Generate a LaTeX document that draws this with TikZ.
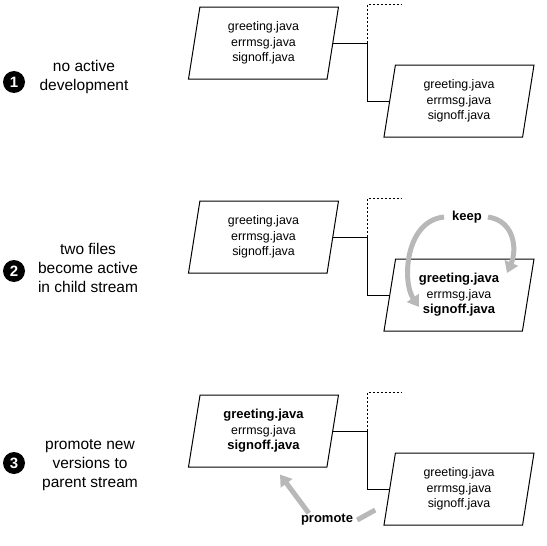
\documentclass[tikz,border=0pt]{standalone}
\usepackage{fontspec}
\setmainfont{Liberation Sans}
\usetikzlibrary{shapes.geometric,arrows.meta}
\definecolor{arrowgray}{RGB}{184,184,184}
\newcommand\bfile[1]{{\fontsize{13}{15.5}\selectfont\bfseries #1}}
\begin{document}
\begin{tikzpicture}[x=1pt,y=-1pt,
  filebox/.style={draw, line width=1pt, trapezium, trapezium left angle=75,
    trapezium right angle=105, trapezium stretches body, minimum width=150pt,
    minimum height=72pt, inner sep=0pt, align=center,
    font=\fontsize{12.4}{15.5}\selectfont},
  link/.style={line width=1pt},
  dashlink/.style={line width=1pt, dash pattern=on 2pt off 2pt},
  numdot/.style={circle, fill=black, minimum size=22pt, inner sep=0pt,
    text=white, font=\bfseries\fontsize{15}{15}\selectfont},
  steplabel/.style={align=center, font=\fontsize{15.5}{19}\selectfont},
  actlabel/.style={font=\bfseries\fontsize{13}{13}\selectfont, inner sep=1pt},
  graybody/.style={draw=arrowgray, line width=5pt},
  grayarrow/.style={graybody, -{Triangle[width=14pt,length=11pt]}}
]
\useasboundingbox (0,0) rectangle (547,546);

% ---------- panel 1 ----------
\node[numdot] (n1) at (14,82) {1};
\node[steplabel] (t1) at (84,77) {no active\\development};
\node[filebox] (p1) at (263.5,43) {greeting.java\\errmsg.java\\signoff.java};
\node[filebox] (c1) at (459,101) {greeting.java\\errmsg.java\\signoff.java};
\draw[link] (p1.east) -- ++(34,0) coordinate (j1) |- (c1.west);
\draw[dashlink] (j1) -- ++(0,-38.5) -- ++(34,0);

% ---------- panel 2 ----------
\node[numdot] (n2) at (14,271) {2};
\node[steplabel] (t2) at (88,268) {two files\\become active\\in child stream};
\node[filebox] (p2) at (263.5,237) {greeting.java\\errmsg.java\\signoff.java};
\node[filebox] (c2) at (459,295) {\bfile{greeting.java}\\errmsg.java\\\bfile{signoff.java}};
\draw[link] (p2.east) -- ++(34,0) coordinate (j2) |- (c2.west);
\draw[dashlink] (j2) -- ++(0,-38.5) -- ++(34,0);
\node[actlabel] (keep) at (467,217) {keep};
\draw[grayarrow] ([xshift=-7pt]keep.west) .. controls (405,221) and (402,282) .. (419,307);
\draw[grayarrow] ([xshift=5pt]keep.east) .. controls (515,221) and (517,250) .. (507,273);

% ---------- panel 3 ----------
\node[numdot] (n3) at (14,463) {3};
\node[steplabel] (t3) at (90,465) {promote new\\versions to\\parent stream};
\node[filebox] (p3) at (263.5,431) {\bfile{greeting.java}\\errmsg.java\\\bfile{signoff.java}};
\node[filebox] (c3) at (459,489) {greeting.java\\errmsg.java\\signoff.java};
\draw[link] (p3.east) -- ++(34,0) coordinate (j3) |- (c3.west);
\draw[dashlink] (j3) -- ++(0,-38.5) -- ++(34,0);
\node[actlabel] (promote) at (327,520) {promote};
\draw[graybody] ([shift={(-14,21)}]c3.west) -- ([xshift=3pt]promote.east);
\draw[grayarrow] ([xshift=9pt]promote.north west) -- ([shift={(16.5,7)}]p3.south);
\end{tikzpicture}
\end{document}
